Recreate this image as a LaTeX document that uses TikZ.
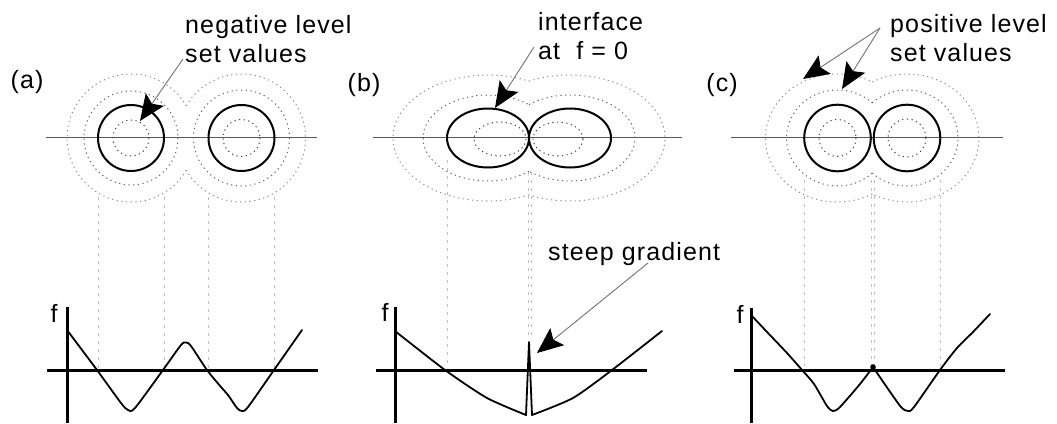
\documentclass[tikz,border=0pt]{standalone}
\usepackage{fontspec}
\setmainfont{Liberation Sans}
\usetikzlibrary{arrows.meta}

\begin{document}
\begin{tikzpicture}[
    x=1pt, y=-1pt,
    font=\fontsize{25}{29}\selectfont\addfontfeature{LetterSpace=4.5},
    % line through each cross-section
    cut/.style={draw=black!65, line width=1.2pt},
    % the interface (zero level set)
    iface/.style={draw=black, line width=2pt},
    % dotted level set contours (darker inside, fainter outside)
    lvl/.style={draw=black!75, line width=1pt, dash pattern=on 1.2pt off 3.5pt},
    lvlmid/.style={lvl, draw=black!62},
    lvlfaint/.style={lvl, draw=black!45},
    % projection lines down to the graphs
    proj/.style={draw=black!25, line width=0.8pt, dash pattern=on 3pt off 5pt},
    % graphs of f
    axis/.style={draw=black, line width=3pt},
    fcurve/.style={draw=black, line width=1.8pt, line join=round, line cap=round},
    callout/.style={draw=black!55, line width=0.9pt,
                    -{Stealth[length=26pt, width=22pt, inset=5pt, color=black]}},
    lbl/.style={anchor=base west, align=left, inner sep=0pt},
    tag/.style={inner sep=0pt}
  ]
  \useasboundingbox (0,0) rectangle (1057,423);

  % ===================== (a): two separate circles =====================
  \node[tag] (taga) at (27,82.5) {(a)};
  \draw[cut] (46,137.5) -- (317,137.5);
  \draw[iface] (131,138) circle[radius=33];
  \draw[iface] (241.5,138) circle[radius=33];
  \draw[lvl] (131,138) circle[radius=18];
  \draw[lvl] (241.5,138) circle[radius=18.5];
  \draw[lvlmid] (131,138) circle[radius=47];
  \draw[lvlmid] (241.5,138) circle[radius=48];
  \draw[lvlfaint] (131,138) ++(30.3:64) arc[start angle=30.3, end angle=329.7, radius=64];
  \draw[lvlfaint] (241.5,138) ++(-149.7:64) arc[start angle=-149.7, end angle=149.7, radius=64];

  \foreach \px in {98,164,208.5,274.5}
    \draw[proj] (\px,197) -- (\px,368);

  \draw[axis] (47,370) -- (318,370);
  \draw[axis] (67,307) -- (67,423);
  \node[tag] (fa) at (54,313.5) {f};
  \draw[fcurve] plot[smooth, tension=0.45] coordinates {(67,330) (97,370) (121,403)
    (128,410) (135,408) (163,370) (181,345) (186,342.5) (191,346) (207,370) (221,387)
    (228,395) (237,408) (242,411) (248,407) (274,370) (302,330)};

  % two-line labels: base anchor sits on the last line
  \node[lbl] (negtxt) at (185,62) {negative level\\set values};
  \coordinate (negfrom) at (183,59);
  \coordinate (negtip) at (140,121);
  \draw[callout] (negfrom) -- (negtip);

  % ===================== (b): touching, interface at f = 0 =====================
  \node[tag] (tagb) at (364,85.5) {(b)};
  \draw[cut] (373,137.5) -- (682,137.5);
  \draw[iface] (488,138) ellipse[x radius=41, y radius=29.5];
  \draw[iface] (570,138) ellipse[x radius=41, y radius=29.5];
  \draw[lvl] (500,139) ellipse[x radius=26, y radius=17];
  \draw[lvl] (558,139) ellipse[x radius=25, y radius=17];
  \draw[lvlmid] (488,138) ++(50.9:65 and 43)
    arc[start angle=50.9, end angle=309.1, x radius=65, y radius=43];
  \draw[lvlmid] (570,138) ++(-129.1:65 and 43)
    arc[start angle=-129.1, end angle=129.1, x radius=65, y radius=43];
  \draw[lvlfaint] (488,138) ++(64.4:95 and 63)
    arc[start angle=64.4, end angle=295.6, x radius=95, y radius=63];
  \draw[lvlfaint] (570,138) ++(-115.6:95 and 63)
    arc[start angle=-115.6, end angle=115.6, x radius=95, y radius=63];

  \draw[proj] (447.5,160) -- (447.5,368);
  \draw[proj] (528,172) -- (528,340);
  \draw[proj] (531,172) -- (531,340);

  \draw[axis] (376,370) -- (647,370);
  \draw[axis] (395,307) -- (395,423);
  \node[tag] (fb) at (385,312.5) {f};
  \draw[fcurve] plot[smooth, tension=0.4] coordinates {(395,331) (445,370) (487,398) (526,415)}
    -- (529,342) -- plot[smooth, tension=0.4] coordinates {(532,415) (573,398) (612,370) (662,331)};

  \node[lbl] (ifacetxt) at (538,59) {interface\\at~~f = 0};
  \coordinate (ifacefrom) at (534,47);
  \coordinate (ifacetip) at (495,108);
  \draw[callout] (ifacefrom) -- (ifacetip);

  \node[lbl] (steeptxt) at (548,260) {steep gradient};
  \coordinate (steepfrom) at (648,263);
  \coordinate (steeptip) at (537,353);
  \draw[callout] (steepfrom) -- (steeptip);

  % ===================== (c): overlapping contours =====================
  \node[tag] (tagc) at (722,85.5) {(c)};
  \draw[cut] (731,137.5) -- (1003,137.5);
  \draw[iface] (837.5,138) circle[radius=33.3];
  \draw[iface] (907,138) circle[radius=33.3];
  \draw[lvl] (837.5,138) circle[radius=18.5];
  \draw[lvl] (907,138) circle[radius=19];
  \draw[lvlmid] (837.5,138) ++(47.05:51 and 48)
    arc[start angle=47.05, end angle=312.95, x radius=51, y radius=48];
  \draw[lvlmid] (907,138) ++(-132.95:51 and 48)
    arc[start angle=-132.95, end angle=132.95, x radius=51, y radius=48];
  \draw[lvlfaint] (837.5,138) ++(61.1:72 and 64)
    arc[start angle=61.1, end angle=298.9, x radius=72, y radius=64];
  \draw[lvlfaint] (907,138) ++(-118.9:72 and 64)
    arc[start angle=-118.9, end angle=118.9, x radius=72, y radius=64];

  \foreach \px in {804,871,874,940}
    \draw[proj] (\px,180) -- (\px,366);

  \draw[axis] (734,370) -- (1005,370);
  \draw[axis] (751,308) -- (751,423);
  \node[tag] (fc) at (740,314.5) {f};
  \draw[fcurve] plot[smooth, tension=0.45] coordinates {(751,315) (768,333) (787,353)
    (802,370) (814,384) (827,406) (833,411) (840,407) (860,384) (873,367)}
    -- plot[smooth, tension=0.45] coordinates {(873,367) (886,386) (901,407) (908,411)
    (914,407) (940,370) (957,348) (973,332) (990,314)};
  \fill (873,367) circle[radius=2.8];

  \node[lbl] (postxt) at (890,61) {positive level\\set values};
  \coordinate (posfrom) at (880,28);
  \coordinate (postipa) at (803,79);
  \coordinate (postipb) at (842,89);
  \draw[callout] (posfrom) -- (postipa);
  \draw[callout] (posfrom) -- (postipb);

\end{tikzpicture}
\end{document}
